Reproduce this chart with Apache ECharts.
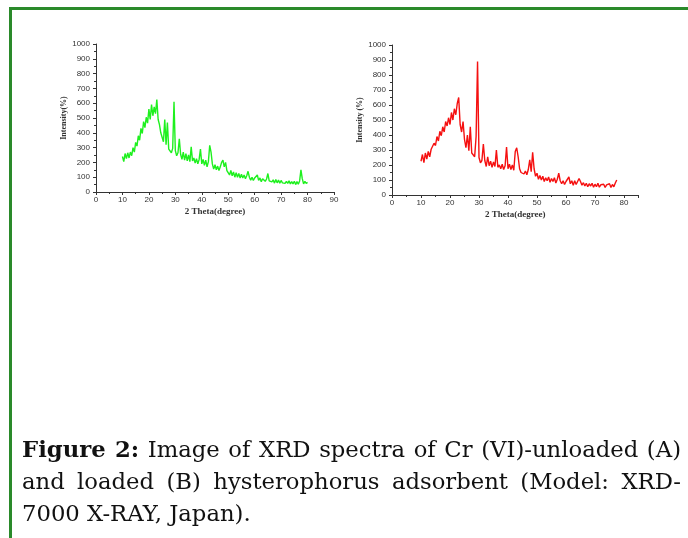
<!DOCTYPE html>
<html>
<head>
<meta charset="utf-8">
<script src="https://cdn.jsdelivr.net/npm/echarts@6/dist/echarts.min.js"></script>
<style>
  html, body { margin: 0; padding: 0; background: #ffffff; }
  #wrap { position: relative; width: 688px; height: 538px; overflow: hidden; background: #fff; }
  #chart { position: absolute; left: 0; top: 0; width: 688px; height: 538px; }
  #caption { position: absolute; left: 22px; top: 433px; width: 659px; font-family: "DejaVu Serif", serif; font-size: 23px; line-height: 32px; color: #111; transform-origin: 0 0; }
  #caption .j { text-align: justify; text-align-last: justify; white-space: nowrap; }
  #caption .n { white-space: nowrap; }
</style>
</head>
<body>
<div id="wrap">
  <div id="chart"></div>
  <div id="caption">
    <div class="j"><span class="m"><b>Figure 2:</b> Image of XRD spectra of Cr (VI)-unloaded (A)</span></div>
    <div class="j"><span class="m">and loaded (B) hysterophorus adsorbent (Model: XRD-</span></div>
    <div class="n"><span class="m">7000 X-RAY, Japan).</span></div>
  </div>
</div>
<script>
// 2-theta angles (degrees)
const anglesA = [10,10.5,11,11.5,12,12.5,13,13.5,14,14.5,15,15.5,16,16.5,17,17.5,18,18.5,19,19.5,
  20,20.5,21,21.5,22,22.5,23,23.5,24,24.5,25,25.5,26,26.5,27,27.5,28,28.5,29,29.5,
  30,30.5,31,31.5,32,32.5,33,33.5,34,34.5,35,35.5,36,36.5,37,37.5,38,38.5,39,39.5,
  40,40.5,41,41.5,42,42.5,43,43.5,44,44.5,45,45.5,46,46.5,47,47.5,48,48.5,49,49.5,
  50,50.5,51,51.5,52,52.5,53,53.5,54,54.5,55,55.5,56,56.5,57,57.5,58,58.5,59,59.5,
  60,60.5,61,61.5,62,62.5,63,63.5,64,64.5,65,65.5,66,66.5,67,67.5,68,68.5,69,69.5,
  70,70.5,71,71.5,72,72.5,73,73.5,74,74.5,75,75.5,76,76.5,77,77.5,78,78.5,79,79.5,80];
// Cr(VI)-unloaded (A) intensity
const intensityA = [240,205,260,225,265,230,270,245,300,270,335,310,380,350,430,395,475,435,505,465,
  560,490,590,515,575,530,625,490,455,400,390,340,490,320,470,290,280,265,295,610,
  280,245,265,360,255,220,270,215,260,210,250,205,305,210,230,195,225,190,220,290,
  190,220,180,215,170,205,315,270,190,155,185,150,175,145,170,200,215,170,200,145,
  140,115,145,110,135,100,130,100,125,95,120,95,115,90,110,140,100,80,100,78,
  95,85,115,78,95,70,90,85,72,88,125,75,85,68,82,60,85,62,80,60,
  78,62,75,58,72,58,75,55,70,55,72,50,70,52,75,150,90,55,72,58,65];
const anglesB = [10,10.5,11,11.5,12,12.5,13,13.5,14,14.5,15,15.5,16,16.5,17,17.5,18,18.5,19,19.5,
  20,20.5,21,21.5,22,22.5,23,23.5,24,24.5,25,25.5,26,26.5,27,27.5,28,28.5,29,29.5,
  30,30.5,31,31.5,32,32.5,33,33.5,34,34.5,35,35.5,36,36.5,37,37.5,38,38.5,39,39.5,
  40,40.5,41,41.5,42,42.5,43,43.5,44,44.5,45,45.5,46,46.5,47,47.5,48,48.5,49,49.5,
  50,50.5,51,51.5,52,52.5,53,53.5,54,54.5,55,55.5,56,56.5,57,57.5,58,58.5,59,59.5,
  60,60.5,61,61.5,62,62.5,63,63.5,64,64.5,65,65.5,66,66.5,67,67.5,68,68.5,69,69.5,
  70,70.5,71,71.5,72,72.5,73,73.5,74,74.5,75,75.5,76,76.5,77,77.5];
// Cr(VI)-loaded (B) intensity
const intensityB = [225,270,215,280,240,290,255,305,295,345,330,390,360,425,395,455,420,490,460,515,
  470,550,500,575,535,610,650,470,420,490,370,315,400,295,455,280,285,255,390,890,
  250,215,230,340,230,190,255,195,225,185,220,190,300,185,200,175,205,170,195,320,
  175,205,170,200,165,290,315,255,175,150,160,140,160,135,170,235,155,285,175,125,
  145,105,130,100,125,90,115,95,120,85,110,90,115,80,105,145,95,75,95,70,
  90,95,120,75,95,65,95,70,90,110,90,65,82,60,78,55,75,60,78,52,
  72,55,78,52,68,55,72,50,68,55,75,50,70,55,80,100];
const yTicksMax = 1000;
const xNameA = '2 Theta(degree)';
const yNameA = 'Intensity(%)';
const xNameB = '2 Theta(degree)';
const yNameB = 'Intensity (%)';

// fit the justified caption: condense glyphs so the first line just fits the column
(function fitCaption() {
  const cap = document.getElementById('caption');
  const spans = cap.querySelectorAll('.m');
  const w1 = spans[0].getBoundingClientRect().width;
  const w2 = spans[1].getBoundingClientRect().width;
  const colW = 659;
  const s = Math.min(1, (colW - 8) / Math.max(w1, w2));
  cap.style.width = (colW / s) + 'px';
  cap.style.transform = 'scaleX(' + s + ')';
  spans.forEach(sp => { sp.style.display = 'inline'; });
})();

const zip = (xs, ys) => xs.map((x, i) => [x, ys[i]]);

const labelStyle = { color: '#333', fontSize: 8, fontFamily: 'Liberation Sans, Arial, sans-serif', formatter: v => String(v) };
const nameStyle = { color: '#333', fontSize: 9, fontWeight: 'bold', fontFamily: 'Liberation Serif, Times New Roman, serif' };
const lineAx = { show: true, lineStyle: { color: '#333', width: 1 } };

function xAx(idx, max) {
  return {
    type: 'value', gridIndex: idx, min: 0, max: max, interval: 10,
    name: idx === 0 ? xNameA : xNameB, nameLocation: 'middle', nameGap: 15, nameTextStyle: nameStyle,
    axisLine: lineAx, axisTick: { show: true, length: 3, lineStyle: { color: '#333' } },
    minorTick: { show: true, splitNumber: 2, length: 2, lineStyle: { color: '#333' } },
    splitLine: { show: false }, minorSplitLine: { show: false },
    axisLabel: Object.assign({ margin: 4, showMaxLabel: idx === 0 }, labelStyle)
  };
}
function yAx(idx) {
  return {
    type: 'value', gridIndex: idx, min: 0, max: yTicksMax, interval: 100,
    name: idx === 0 ? yNameA : yNameB, nameLocation: 'middle', nameRotate: 90, nameGap: 28, nameTextStyle: Object.assign({}, nameStyle, { fontSize: 8 }),
    axisLine: lineAx, axisTick: { show: true, length: 3, lineStyle: { color: '#333' } },
    minorTick: { show: true, splitNumber: 2, length: 2, lineStyle: { color: '#333' } },
    splitLine: { show: false }, minorSplitLine: { show: false },
    axisLabel: Object.assign({ margin: 6 }, labelStyle)
  };
}

const chart = echarts.init(document.getElementById('chart'), null, { renderer: 'canvas' });
chart.setOption({
  backgroundColor: '#ffffff',
  animation: false,
  graphic: [
    { type: 'line', shape: { x1: 9, y1: 8.5, x2: 688, y2: 8.5 }, style: { stroke: '#2a8a2a', lineWidth: 3 } },
    { type: 'line', shape: { x1: 10.5, y1: 7, x2: 10.5, y2: 538 }, style: { stroke: '#2a8a2a', lineWidth: 3 } }
  ],
  grid: [
    { left: 96, top: 44, width: 238, height: 148 },
    { left: 392, top: 45, width: 246.5, height: 150 }
  ],
  xAxis: [xAx(0, 90), xAx(1, 85)],
  yAxis: [yAx(0), yAx(1)],
  series: [
    { type: 'line', xAxisIndex: 0, yAxisIndex: 0, data: zip(anglesA, intensityA), showSymbol: false,
      lineStyle: { color: '#1ef01e', width: 1.4 } },
    { type: 'line', xAxisIndex: 1, yAxisIndex: 1, data: zip(anglesB, intensityB), showSymbol: false,
      lineStyle: { color: '#f51010', width: 1.4 } }
  ]
});
</script>
</body>
</html>
